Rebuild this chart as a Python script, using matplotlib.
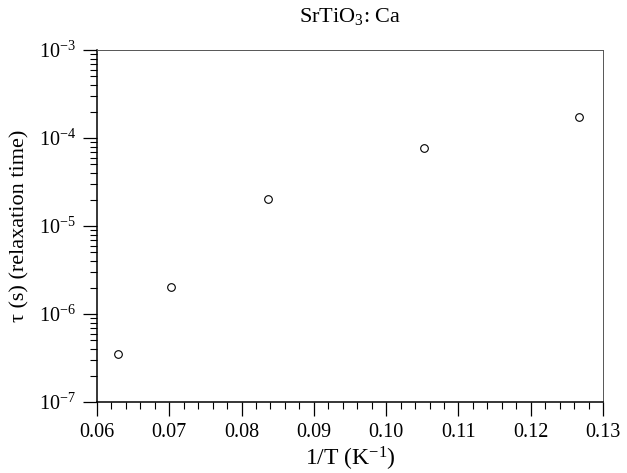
import math

import matplotlib

matplotlib.use("Agg")
import matplotlib.pyplot as plt
from matplotlib.ticker import LogLocator, MultipleLocator, FuncFormatter, NullFormatter

# data
inv_T = [0.0629, 0.0703, 0.0836, 0.1053, 0.1267]
tau = [3.5e-7, 2.05e-6, 2.05e-5, 7.6e-5, 1.72e-4]

plt.rcParams["font.family"] = ["Liberation Serif", "DejaVu Serif"]
plt.rcParams["mathtext.fontset"] = "custom"
plt.rcParams["mathtext.rm"] = "Liberation Serif"
plt.rcParams["mathtext.it"] = "Liberation Serif:italic"

fig = plt.figure(figsize=(6.27, 4.73), dpi=100)
ax = fig.add_axes([97 / 627, 1 - 402 / 473, 506 / 627, 352 / 473])

ax.plot(inv_T, tau, linestyle="none", marker="o", markersize=5.5,
        markerfacecolor="white", markeredgecolor="black", markeredgewidth=0.8)

ax.set_yscale("log")
ax.set_xlim(0.06, 0.13)
ax.set_ylim(1e-7, 1e-3)

ax.xaxis.set_major_locator(MultipleLocator(0.01))
ax.xaxis.set_minor_locator(MultipleLocator(0.002))
ax.xaxis.set_major_formatter(FuncFormatter(lambda v, p: f"{v:.2f}"))
ax.yaxis.set_major_locator(LogLocator(base=10, numticks=10))
ax.yaxis.set_minor_locator(LogLocator(base=10, subs=range(2, 10), numticks=10))
ax.yaxis.set_minor_formatter(NullFormatter())
ax.yaxis.set_major_formatter(
    FuncFormatter(lambda v, p: r"$\mathregular{10^{%d}}$" % round(math.log10(v)))
)

ax.tick_params(which="major", direction="out", length=10, width=0.9, labelsize=14.5, pad=5)
ax.tick_params(which="minor", direction="out", length=5, width=0.8)

for side in ("left", "bottom"):
    ax.spines[side].set_linewidth(1.1)
for side in ("top", "right"):
    ax.spines[side].set_linewidth(0.7)
    ax.spines[side].set_color("#555555")

ax.set_xlabel(r"1/T (K$^{\mathregular{-1}}$)", fontsize=17, labelpad=2)
ax.set_ylabel("τ (s) (relaxation time)", fontsize=16, labelpad=7)
ax.set_title(r"SrTiO$_{\mathregular{3}}$: Ca", fontsize=16, pad=20)

fig.savefig("out.png", dpi=100)
